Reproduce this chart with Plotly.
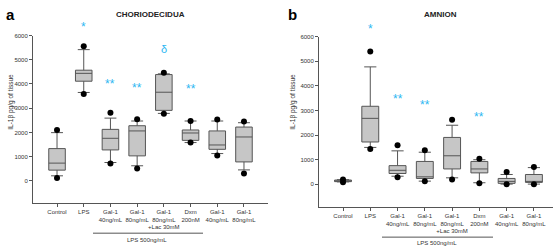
import plotly.graph_objects as go

W, H = 560, 248

tick_labels = ["Control", "LPS", "Gal-1<br>40ng/mL", "Gal-1<br>80ng/mL",
               "Gal-1<br>80ng/mL<br>+Lac 30mM", "Dxm<br>200nM",
               "Gal-1<br>40ng/mL", "Gal-1<br>80ng/mL"]
positions = [0, 1, 2, 3, 4, 5, 6, 7]

# Panel a: CHORIODECIDUA  (IL-1β pg/g of tissue)
a_upper_dot = [2100, 5560, 2810, 2540, 4460, 2470, 2530, 2450]
a_upper = [1990, 5420, 2590, 2470, 4420, 2470, 2470, 2400]
a_q3 = [1330, 4570, 2125, 2275, 4390, 2100, 2060, 2220]
a_median = [730, 4440, 1755, 2060, 3660, 1975, 1480, 1810]
a_q1 = [440, 4115, 1275, 1030, 2910, 1670, 1300, 780]
a_lower = [205, 3650, 755, 620, 2785, 1580, 1125, 450]
a_lower_dot = [110, 3590, 710, 510, 2770, 1580, 1040, 300]
a_sig_pos = [1, 2, 3, 4, 5]
a_sig_text = ["*", "**", "**", "δ", "**"]
a_sig_y = [6350, 3990, 3830, 5460, 3800]

# Panel b: AMNION
b_upper_dot = [200, 5390, 1585, 1385, 2625, 1040, 505, 705]
b_upper = [190, 4770, 1360, 1305, 2400, 1000, 400, 680]
b_q3 = [175, 3170, 760, 930, 1905, 930, 240, 400]
b_median = [140, 2680, 570, 305, 1160, 625, 120, 120]
b_q1 = [110, 1720, 440, 240, 625, 465, 40, 80]
b_lower = [100, 1500, 330, 130, 265, 65, 10, 10]
b_lower_dot = [90, 1440, 290, 130, 200, 40, 0, 0]
b_sig_pos = [1, 2, 3, 5]
b_sig_text = ["*", "**", "**", "**"]
b_sig_y = [6320, 3465, 3240, 2720]

yticks = [0, 1000, 2000, 3000, 4000, 5000, 6000]
YMIN, YMAX = -900, 6000

BOX_FILL = "#c6c6c6"
BOX_LINE = "#555555"
AX = "#555555"
STAR = "#2cb7f2"
FONT = "Liberation Sans, Arial, sans-serif"

# panel pixel geometry
A_X = (33, 268)
A_Y = (33, 202)
B_X = (319, 553)
B_Y = (34, 206)

fig = go.Figure()
ann = []


def add_panel(xa, ya, upd, up, q3, med, q1, lo, lod, sp, st, sy, ypix):
    fig.add_trace(go.Box(
        x=positions, q1=q1, median=med, q3=q3, lowerfence=lo, upperfence=up,
        xaxis=xa, yaxis=ya, width=0.62, whiskerwidth=0.72,
        fillcolor=BOX_FILL, line=dict(color=BOX_LINE, width=1),
        boxpoints=False, showlegend=False, hoverinfo="skip"))
    fig.add_trace(go.Scatter(
        x=positions + positions, y=upd + lod, mode="markers",
        marker=dict(color="black", size=6), xaxis=xa, yaxis=ya,
        showlegend=False, cliponaxis=False, hoverinfo="skip"))
    pxu = (ypix[1] - ypix[0]) / (YMAX - YMIN)
    for p, t, v in zip(sp, st, sy):
        yy = min(v, YMAX)
        ann.append(dict(text=t, x=p, y=yy, xref=xa, yref=ya, showarrow=False,
                        yshift=(v - yy) * pxu, xanchor="center", yanchor="middle",
                        font=dict(color=STAR, size=12 if t != "δ" else 11,
                                  family=FONT)))


add_panel("x", "y", a_upper_dot, a_upper, a_q3, a_median, a_q1, a_lower,
          a_lower_dot, a_sig_pos, a_sig_text, a_sig_y, A_Y)
add_panel("x2", "y2", b_upper_dot, b_upper, b_q3, b_median, b_q1, b_lower,
          b_lower_dot, b_sig_pos, b_sig_text, b_sig_y, B_Y)

xcommon = dict(tickmode="array", tickvals=positions, ticktext=tick_labels,
               tickangle=0,
               showline=True, linecolor=AX, linewidth=1, ticks="outside",
               ticklen=3, tickcolor=AX, showgrid=False, zeroline=False,
               tickfont=dict(size=6, color="#333", family=FONT))
ycommon = dict(tickmode="array", tickvals=yticks, range=[YMIN, YMAX],
               showline=True, linecolor=AX, linewidth=1, ticks="outside",
               ticklen=3, tickcolor=AX, showgrid=False, zeroline=False,
               tickfont=dict(size=6, color="#333", family=FONT))

fig.update_layout(
    width=W, height=H, margin=dict(l=0, r=0, t=0, b=0),
    paper_bgcolor="white", plot_bgcolor="white",
    font=dict(family=FONT),
    xaxis=dict(domain=[A_X[0] / W, A_X[1] / W], range=[-0.9, 7.9], anchor="y", **xcommon),
    yaxis=dict(domain=[1 - A_Y[1] / H, 1 - A_Y[0] / H], anchor="x", **ycommon),
    xaxis2=dict(domain=[B_X[0] / W, B_X[1] / W], range=[-0.88, 7.7], anchor="y2", **xcommon),
    yaxis2=dict(domain=[1 - B_Y[1] / H, 1 - B_Y[0] / H], anchor="x2", **ycommon),
)

ann.append(dict(text="<b>a</b>", x=4 / W, y=1 - 12 / H, xref="paper", yref="paper",
                showarrow=False, xanchor="left", yanchor="middle",
                font=dict(size=15, color="black", family=FONT)))
ann.append(dict(text="<b>b</b>", x=286 / W, y=1 - 12 / H, xref="paper", yref="paper",
                showarrow=False, xanchor="left", yanchor="middle",
                font=dict(size=15, color="black", family=FONT)))
ann.append(dict(text="<b>CHORIODECIDUA</b>", x=150 / W, y=1 - 12 / H, xref="paper",
                yref="paper", showarrow=False, xanchor="center", yanchor="middle",
                font=dict(size=8, color="#222", family=FONT)))
ann.append(dict(text="<b>AMNION</b>", x=440 / W, y=1 - 12 / H, xref="paper",
                yref="paper", showarrow=False, xanchor="center", yanchor="middle",
                font=dict(size=8, color="#222", family=FONT)))
for xp, yp in [(11, 100), (293, 100)]:
    ann.append(dict(text="IL-1β pg/g of tissue", x=xp / W, y=1 - yp / H, xref="paper",
                    yref="paper", showarrow=False, textangle=-90,
                    xanchor="center", yanchor="middle",
                    font=dict(size=6.5, color="#333", family=FONT)))
for xc, yp in [(147, 240), (437, 243)]:
    ann.append(dict(text="LPS 500ng/mL", x=xc / W, y=1 - yp / H, xref="paper",
                    yref="paper", showarrow=False, xanchor="center", yanchor="middle",
                    font=dict(size=6, color="#333", family=FONT)))
fig.update_layout(annotations=ann)

fig.add_shape(type="line", xref="paper", yref="paper", x0=93 / W, x1=203 / W,
              y0=1 - 233 / H, y1=1 - 233 / H, line=dict(color=AX, width=1))
fig.add_shape(type="line", xref="paper", yref="paper", x0=382 / W, x1=493 / W,
              y0=1 - 237 / H, y1=1 - 237 / H, line=dict(color=AX, width=1))

fig.write_html("out.html",
               config={"displayModeBar": False},
               post_script="document.body.style.margin='0';"
                           "document.body.style.overflow='hidden';")
